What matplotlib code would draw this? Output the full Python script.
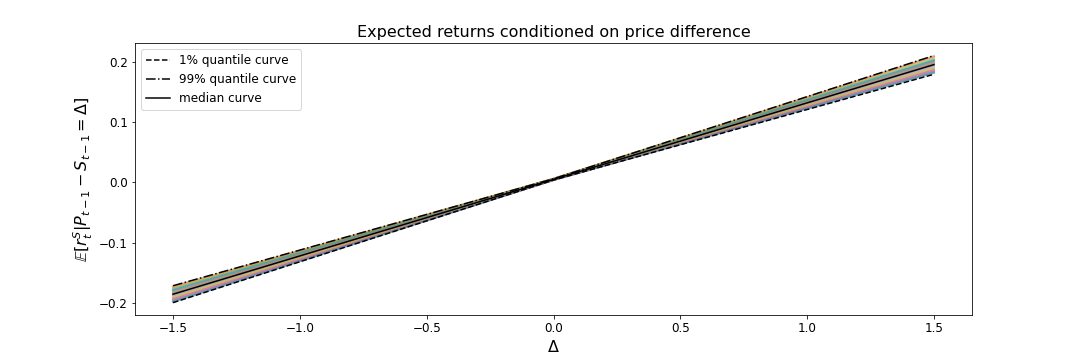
import matplotlib
matplotlib.use("Agg")
import matplotlib.pyplot as plt
from matplotlib.ticker import MultipleLocator

# price difference grid
delta = [-1.5, 0.0, 1.5]

# quantile / median curves (values at delta)
q01 = [-0.199, 0.004, 0.179]
q99 = [-0.171, 0.006, 0.210]
median = [-0.185, 0.005, 0.195]

# individual sampled curves (values at delta)
samples = [
    [-0.186, 0.005, 0.194],
    [-0.174, 0.006, 0.207],
    [-0.197, 0.004, 0.182],
    [-0.182, 0.005, 0.198],
    [-0.191, 0.005, 0.188],
    [-0.178, 0.006, 0.202],
    [-0.194, 0.004, 0.185],
    [-0.172, 0.006, 0.209],
    [-0.189, 0.005, 0.190],
    [-0.180, 0.005, 0.200],
    [-0.198, 0.004, 0.181],
    [-0.184, 0.005, 0.196],
    [-0.176, 0.006, 0.204],
    [-0.193, 0.004, 0.186],
    [-0.187, 0.005, 0.192],
    [-0.179, 0.006, 0.201],
    [-0.195, 0.004, 0.184],
    [-0.183, 0.005, 0.197],
    [-0.190, 0.005, 0.189],
    [-0.177, 0.006, 0.203],
    [-0.196, 0.004, 0.183],
    [-0.173, 0.006, 0.208],
]

fig, ax = plt.subplots(figsize=(15, 5), dpi=72)
fig.subplots_adjust(left=0.125, right=0.9, top=0.88, bottom=0.125)

for s in samples:
    ax.plot(delta, s, lw=2, alpha=0.4)

ax.plot(delta, q01, "k--", lw=1.5, label="1% quantile curve")
ax.plot(delta, q99, "k-.", lw=1.5, label="99% quantile curve")
ax.plot(delta, median, "k-", lw=1.5, label="median curve")

ax.yaxis.set_major_locator(MultipleLocator(0.1))
ax.set_title("Expected returns conditioned on price difference", fontsize=16)
ax.set_xlabel(r"$\Delta$", fontsize=16)
ax.set_ylabel(r"$\mathbb{E}[r^S_t | P_{t-1} - S_{t-1} = \Delta]$", fontsize=16)
ax.tick_params(labelsize=12)
ax.legend(loc="upper left", fontsize=12)

fig.savefig("out.png", dpi=72)
